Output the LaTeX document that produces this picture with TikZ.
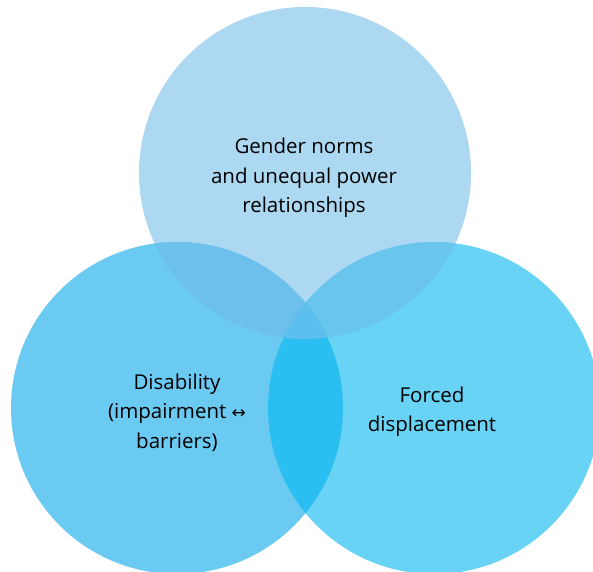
\documentclass[tikz,border=0pt]{standalone}
\usepackage{fontspec}
\setmainfont{Open Sans}
\newfontfamily\symfont{DejaVu Sans}
\definecolor{cTop}{HTML}{ADD8F1}
\definecolor{cLeft}{HTML}{6BCAF2}
\definecolor{cRight}{HTML}{69D3F5}
\definecolor{cTL}{HTML}{6CC0EB}
\definecolor{cTR}{HTML}{6AC5ED}
\definecolor{cLR}{HTML}{2BBEF0}
\definecolor{cAll}{HTML}{5CBFEE}
\begin{document}
\begin{tikzpicture}[x=1pt,y=-1pt,
  lbl/.style={font=\fontsize{20.5}{29.5}\selectfont, align=center, text=black, inner sep=0pt}]
\def\TopC{(305,173) circle [radius=166]}
\def\LeftC{(177,408) circle [radius=166]}
\def\RightC{(434,408) circle [radius=166]}
\useasboundingbox (0,0) rectangle (593,571);
\clip (0,0) rectangle (593,571);
\fill[white] (0,0) rectangle (593,571);
\fill[cTop] \TopC;
\fill[cLeft] \LeftC;
\fill[cRight] \RightC;
\begin{scope}\clip \TopC; \fill[cTL] \LeftC; \end{scope}
\begin{scope}\clip \TopC; \fill[cTR] \RightC; \end{scope}
\begin{scope}\clip \LeftC; \fill[cLR] \RightC; \end{scope}
\begin{scope}\clip \TopC; \clip \LeftC; \fill[cAll] \RightC; \end{scope}
\node[lbl] (gender) at (304,178) {Gender norms\\and unequal power\\relationships};
\node[lbl] (disab) at (177,412.5) {Disability\\(impairment {\symfont\fontsize{17}{29}\selectfont ↔}\\barriers)};
\node[lbl] (forced) at (432,411.5) {Forced\\displacement};
\end{tikzpicture}
\end{document}
